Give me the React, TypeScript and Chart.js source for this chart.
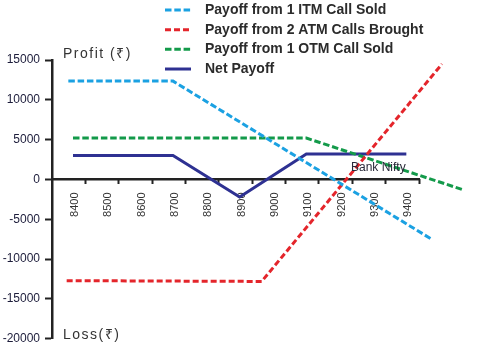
import React, { useEffect, useRef } from 'react';
import { Chart, registerables } from 'chart.js';

Chart.register(...registerables);

// ---- data ----
const strikeLabels = [8400, 8500, 8600, 8700, 8800, 8900, 9000, 9100, 9200, 9300, 9400];
const yTickValues = [15000, 10000, 5000, 0, -5000, -10000, -15000, -20000];

const seriesNames = [
  'Payoff from 1 ITM Call Sold',
  'Payoff from 2 ATM Calls Brought',
  'Payoff from 1 OTM Call Sold',
  'Net Payoff',
];

const itmSoldX = [8386, 8700, 9479];
const itmSoldY = [12350, 12350, -7580];

const atmBoughtX = [8381, 8966, 9507];
const atmBoughtY = [-12700, -12800, 14500];

const otmSoldX = [8400, 9100, 9573];
const otmSoldY = [5200, 5200, -1330];

const netX = [8400, 8700, 8900, 9100, 9400];
const netY = [3000, 3000, -2200, 3200, 3200];

const xMin = 8337;
const xMax = 9438;

const FONT = '"Liberation Sans", Arial, sans-serif';

const toPoints = (xs: number[], ys: number[]) => xs.map((x, i) => ({ x, y: ys[i] }));

const annotationPlugin = {
  id: 'annotations',
  afterDraw(chart: any) {
    const ctx = chart.ctx as CanvasRenderingContext2D;
    const area = chart.chartArea;
    ctx.save();
    // legend (vertical list)
    chart.data.datasets.forEach((ds: any, i: number) => {
      const y = 10 + i * 19.67;
      ctx.beginPath();
      ctx.setLineDash(ds.borderDash || []);
      ctx.lineWidth = ds.borderWidth;
      ctx.strokeStyle = ds.borderColor;
      ctx.lineCap = 'butt';
      ctx.moveTo(165, y);
      ctx.lineTo(191, y);
      ctx.stroke();
      ctx.setLineDash([]);
      ctx.fillStyle = '#2b2b2b';
      ctx.font = 'bold 14px ' + FONT;
      ctx.textBaseline = 'middle';
      ctx.textAlign = 'left';
      ctx.fillText(ds.label, 205, y);
    });
    // axis titles
    ctx.fillStyle = '#333333';
    ctx.font = '14px ' + FONT;
    ctx.textBaseline = 'alphabetic';
    ctx.textAlign = 'left';
    (ctx as any).letterSpacing = '1.5px';
    ctx.fillText('Profit (\u20B9)', area.left + 11, area.top - 2.5);
    ctx.fillText('Loss(\u20B9)', area.left + 11, area.bottom + 0.5);
    (ctx as any).letterSpacing = '0px';
    const yScale = chart.scales.y;
    const xScale = chart.scales.x;
    ctx.font = '12px ' + FONT;
    ctx.fillStyle = '#2a2a3a';
    ctx.fillText('Bank Nifty', xScale.right - 68, yScale.getPixelForValue(0) - 8);
    ctx.restore();
  },
};

export default function App() {
  const canvasRef = useRef<HTMLCanvasElement | null>(null);

  useEffect(() => {
    if (!canvasRef.current) return;
    const common = {
      pointRadius: 0,
      pointHoverRadius: 0,
      borderWidth: 3,
      tension: 0,
      fill: false,
      clip: false as const,
      borderCapStyle: 'butt' as const,
    };
    const chart = new Chart(canvasRef.current, {
      type: 'line',
      data: {
        datasets: [
          { ...common, label: seriesNames[0], data: toPoints(itmSoldX, itmSoldY), borderColor: '#1ba1e2', borderDash: [6.5, 2.8] },
          { ...common, label: seriesNames[1], data: toPoints(atmBoughtX, atmBoughtY), borderColor: '#e4252b', borderDash: [6, 3] },
          { ...common, label: seriesNames[2], data: toPoints(otmSoldX, otmSoldY), borderColor: '#139a4a', borderDash: [6.5, 2.8] },
          { ...common, label: seriesNames[3], data: toPoints(netX, netY), borderColor: '#2e3192' },
        ],
      },
      options: {
        responsive: false,
        animation: false,
        layout: { padding: { top: 60, right: 65, bottom: 12, left: 0 } },
        plugins: {
          legend: { display: false },
          tooltip: { enabled: false },
        },
        scales: {
          x: {
            type: 'linear',
            min: xMin,
            max: xMax,
            position: { y: 0 } as any,
            afterBuildTicks: (scale: any) => {
              scale.ticks = strikeLabels.map((v) => ({ value: v }));
            },
            ticks: {
              autoSkip: false,
              minRotation: 90,
              maxRotation: 90,
              padding: 13,
              labelOffset: 2,
              color: '#333333',
              font: { family: FONT, size: 11 },
              callback: (v: any) => String(v),
            },
            grid: { display: false, drawTicks: false },
            border: { display: true, color: '#222222', width: 2.5 },
          },
          xMarks: {
            type: 'linear',
            min: xMin,
            max: xMax,
            position: { y: 0 } as any,
            afterBuildTicks: (scale: any) => {
              const n = strikeLabels.length;
              const step = (xMax - xMin) / n;
              scale.ticks = strikeLabels.map((_, k) => ({ value: xMin + step * (k + 1) }));
            },
            ticks: { display: false },
            grid: {
              display: true,
              drawOnChartArea: false,
              drawTicks: true,
              tickLength: 5,
              tickWidth: 2,
              tickColor: '#222222',
            },
            border: { display: false },
          },
          y: {
            type: 'linear',
            min: yTickValues[yTickValues.length - 1],
            max: yTickValues[0],
            afterBuildTicks: (scale: any) => {
              scale.ticks = yTickValues.map((v) => ({ value: v }));
            },
            afterFit: (scale: any) => {
              scale.width = 52;
            },
            ticks: {
              padding: 5,
              color: '#1c1c3a',
              font: { family: FONT, size: 12 },
              callback: (v: any) => String(v),
            },
            grid: {
              display: true,
              drawOnChartArea: false,
              drawTicks: true,
              tickLength: 7,
              tickWidth: 2,
              tickColor: '#222222',
            },
            border: { display: true, color: '#222222', width: 2.5 },
          },
        },
      },
      plugins: [annotationPlugin],
    } as any);
    return () => chart.destroy();
  }, []);

  return (
    <div style={{ position: 'fixed', left: 0, top: 0, width: 484, height: 351, background: '#ffffff' }}>
      <canvas ref={canvasRef} width={484} height={351} style={{ display: 'block' }} />
    </div>
  );
}
